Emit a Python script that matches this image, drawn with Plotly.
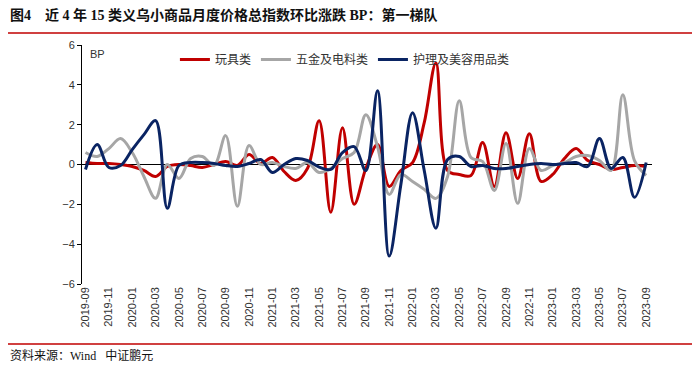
import plotly.graph_objects as go

months = []
y, m = 2019, 9
for _ in range(49):
    months.append(f"{y}-{m:02d}")
    m += 1
    if m > 12:
        m = 1
        y += 1

toys = [0.1, 0.05, 0.05, 0.0, -0.1, -0.3, -0.6, -0.1, 0.0, -0.05, -0.15, 0.0, 0.15, -0.05, 0.5, 0.05,
        0.35, -0.35, -0.8, -0.2, 2.2, -2.4, 1.85, -2.0, -0.2, 1.0, -1.1, -0.3, 0.1, 2.1, 5.1, -0.3,
        -0.5, -0.55, 1.1, -1.1, 1.6, -0.7, 1.55, -0.85, -0.5, 0.3, 0.8, 0.2, 0.0, -0.25, -0.15, -0.05, -0.1]
hardware = [0.6, 0.4, 0.8, 1.3, 0.6, -0.6, -1.7, 0.0, -0.7, 0.3, 0.4, -0.05, 1.45, -2.1, 0.95, 0.0,
            0.1, -0.1, -0.2, 0.1, -0.4, -0.2, 0.3, 0.6, 2.5, 0.9, -1.5, -0.5, -0.85, -1.25, -1.7, -0.6,
            3.2, 0.35, 0.15, -1.3, 1.05, -1.95, 0.8, -0.3, -0.05, 0.1, 0.4, 0.45, 0.2, -0.3, 3.5, 0.2, -0.55]
care = [-0.25, 1.0, -0.15, -0.05, 0.75, 1.5, 2.2, -2.2, -0.05, 0.1, 0.1, 0.05, -0.05, -0.1, 0.05, 0.25,
        -0.4, 0.0, 0.3, 0.2, -0.13, -0.25, 0.6, 0.9, -0.3, 3.7, -4.6, -1.0, 2.6, -0.3, -3.2, 0.25,
        0.4, -0.1, -0.05, -0.2, -0.2, -0.1, 0.0, 0.05, 0.0, 0.05, 0.1, -0.1, 1.3, -0.2, 0.35, -1.65, 0.1]

series_names = ["玩具类", "五金及电料类", "护理及美容用品类"]
series_colors = ["#C00000", "#A6A6A6", "#0A2463"]
y_ticks = [-6, -4, -2, 0, 2, 4, 6]

idx = list(range(len(months)))
tick_idx = idx[::2]
tick_text = months[::2]

fig = go.Figure()
for name, vals, col in zip(series_names, [toys, hardware, care], series_colors):
    fig.add_trace(go.Scatter(x=idx, y=vals, mode="lines", name=name,
                             line=dict(color=col, width=3, shape="spline", smoothing=1.0)))

L, R, T, B = 82, 652, 45, 284

fig.update_layout(
    width=700, height=369,
    margin=dict(l=L, r=700 - R, t=T, b=369 - B, autoexpand=False),
    paper_bgcolor="white", plot_bgcolor="white",
    font=dict(family="Liberation Sans, Noto Sans CJK SC, sans-serif", size=11, color="#333"),
    legend=dict(orientation="h", x=0.163, y=1.0, xanchor="left", yanchor="top",
                font=dict(size=12, color="#333"), itemwidth=30, bgcolor="rgba(0,0,0,0)"),
    xaxis=dict(range=[-0.3, 48.5], tickmode="array", tickvals=tick_idx, ticktext=tick_text,
               tickangle=-90, showgrid=False, zeroline=False, showline=False, ticks="",
               tickfont=dict(size=11, color="#333"), automargin=False),
    yaxis=dict(range=[-6, 6], tickvals=y_ticks, showgrid=False, zeroline=True, zerolinecolor="black",
               zerolinewidth=1, showline=True, linecolor="black", linewidth=1, ticks="outside",
               ticklen=4, tickcolor="black", tickfont=dict(size=11, color="#333"), automargin=False),
    showlegend=True,
)

def px(xp):
    return (xp - L) / (R - L)
def py(yp):
    return (B - yp) / (B - T)

fig.add_annotation(x=0, y=1, xref="paper", yref="paper", text="BP", showarrow=False,
                   xanchor="left", yanchor="top", xshift=6, yshift=-1, font=dict(size=11, color="#333"))
fig.add_annotation(x=px(8), y=py(15), xref="paper", yref="paper",
                   text="<b>图4    近 4 年 15 类义乌小商品月度价格总指数环比涨跌 BP：第一梯队</b>",
                   showarrow=False, xanchor="left", yanchor="middle",
                   font=dict(family="Liberation Serif, Noto Sans CJK SC, serif", size=14, color="#111"))
fig.add_annotation(x=px(8), y=py(355), xref="paper", yref="paper", text="资料来源：Wind   中证鹏元",
                   showarrow=False, xanchor="left", yanchor="middle",
                   font=dict(family="Liberation Serif, Noto Sans CJK SC, serif", size=12, color="#111"))

for yl in (33, 344):
    fig.add_shape(type="line", xref="paper", yref="paper", x0=px(8), x1=px(692), y0=py(yl), y1=py(yl),
                  line=dict(color="#C00000", width=1.5))

fig.write_html("out.html", config={"displayModeBar": False},
               post_script="document.body.style.margin='0';document.body.style.overflow='hidden';")
